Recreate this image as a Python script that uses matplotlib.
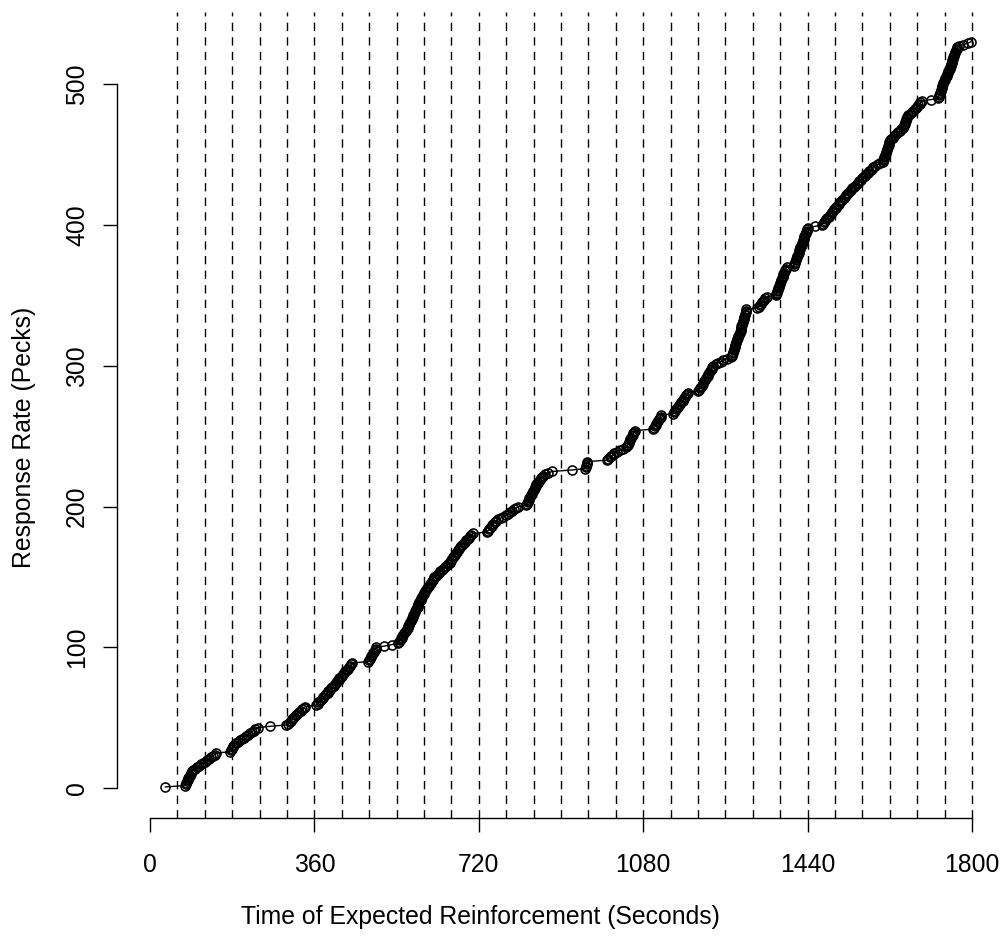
import numpy as np
import matplotlib
matplotlib.use("Agg")
import matplotlib.pyplot as plt

# Time (s) of each successive peck in the session
peck_times = [
    34,
    77, 78, 80, 81, 83, 84, 86, 87, 89, 91, 93,
    95, 99, 103, 108, 112, 117, 121, 126, 130, 134, 138, 142, 145,
    175, 177, 179, 181, 183, 185, 188, 192, 197, 201, 206, 210,
    214, 219, 223, 227, 231, 236,
    262,
    298, 302, 306, 309, 312, 314, 316, 320, 323, 327, 330, 334, 337, 340,
    364, 367, 369, 372, 375, 378, 380, 383, 386, 389, 391, 394, 397, 399,
    402, 405, 407, 410, 413, 415, 418,
    421, 423, 426, 428, 431, 433, 436, 438, 441, 443,
    477, 479, 481, 483, 485, 487, 489, 490, 492, 494, 495,
    513, 529,
    543, 545, 547, 549, 551, 553, 555, 557, 559, 561,
    562, 564, 565, 567, 568, 570, 571, 573, 574, 575, 577, 578, 580, 581,
    583, 584, 586, 587, 588, 590, 591, 593, 594, 596, 597,
    599, 601, 603, 605, 607, 609, 611, 613, 615, 617, 619, 621, 623,
    626, 630, 633, 636, 639, 642, 645, 648, 652, 656,
    658, 660, 662, 664, 666, 668, 670, 672, 674, 676, 678,
    681, 684, 687, 690, 693, 696, 699, 701, 704, 707,
    738, 740, 743, 745, 748, 750, 752, 755, 758,
    763, 769, 774, 780, 784, 789, 793, 797, 802, 806,
    824, 825, 827, 828, 830, 831, 833, 834, 836, 837, 839, 840, 842, 843,
    845, 846, 849, 851, 854, 856, 859, 861, 864,
    872, 881, 923,
    953, 954, 955, 956, 957, 958,
    1000, 1003, 1007, 1010, 1014, 1017, 1023, 1030, 1036, 1043,
    1045, 1046, 1048, 1049, 1051, 1052, 1054, 1055, 1057, 1058, 1060, 1061,
    1101, 1103, 1105, 1107, 1109, 1111, 1113, 1115, 1116, 1118, 1120,
    1145, 1147, 1150, 1152, 1154, 1157, 1159, 1161, 1163, 1166, 1168, 1170,
    1172, 1174, 1176, 1178,
    1200, 1202, 1204, 1206, 1208, 1210, 1211, 1213, 1215, 1217, 1219, 1221,
    1222, 1224, 1226, 1228, 1230, 1231, 1233,
    1239, 1244, 1250, 1255, 1264, 1273,
    1274, 1275, 1276, 1277, 1278, 1279, 1280, 1281, 1282, 1283, 1284, 1285,
    1286, 1287, 1288, 1289, 1291,
    1292, 1293, 1294, 1295, 1295, 1296, 1297, 1298, 1299, 1300, 1300, 1301,
    1302, 1303, 1304, 1305, 1306,
    1330, 1333, 1336, 1338, 1340, 1342, 1344, 1347, 1350,
    1370, 1371, 1372, 1373, 1375, 1376, 1377, 1378, 1379, 1380, 1381, 1382,
    1383, 1385, 1386, 1387, 1388, 1390, 1391, 1392, 1394,
    1410, 1411, 1412, 1413, 1414, 1415, 1416, 1417, 1419, 1420, 1421, 1422,
    1423, 1424, 1426, 1427, 1428, 1429, 1430, 1431, 1432, 1433, 1434, 1436,
    1437, 1438, 1439, 1441,
    1456, 1471,
    1473, 1476, 1478, 1481, 1483, 1486, 1488, 1491, 1493, 1496, 1498, 1501,
    1503, 1506,
    1509, 1511, 1514, 1516, 1519, 1521, 1524, 1527, 1529, 1532, 1535, 1538,
    1541, 1544,
    1547, 1550, 1553, 1556, 1559, 1562,
    1565, 1568, 1572, 1575, 1578, 1581, 1584, 1587,
    1593, 1599, 1605,
    1606, 1607, 1608, 1609, 1610, 1611, 1612, 1613, 1614, 1615, 1616, 1617,
    1618, 1619, 1620,
    1623, 1626, 1629, 1632, 1635, 1638, 1642, 1645, 1649,
    1650, 1651, 1652, 1653, 1655, 1656, 1657, 1658, 1660,
    1664, 1668, 1671, 1675, 1677, 1680, 1682, 1685, 1687, 1690,
    1710, 1726,
    1727, 1728, 1729, 1730, 1731, 1732, 1733, 1734, 1735, 1736, 1737,
    1738, 1740, 1741, 1743, 1744, 1745, 1747, 1748, 1749, 1751, 1752,
    1753, 1754, 1755, 1756, 1757, 1758, 1759, 1760, 1761, 1762, 1763, 1764,
    1766, 1767,
    1772, 1781, 1790, 1797,
]

# Scheduled reinforcement times (every 60 s)
interval_marks = list(range(60, 1801, 60))

x_ticks = [0, 360, 720, 1080, 1440, 1800]
y_ticks = [0, 100, 200, 300, 400, 500]

x_label = "Time of Expected Reinforcement (Seconds)"
y_label = "Response Rate (Pecks)"

plt.rcParams["font.family"] = ["Liberation Sans", "DejaVu Sans"]
FS = 17.8

W, H = 1006, 938
fig = plt.figure(figsize=(W / 100, H / 100), dpi=100)

# plot region in pixels
px_left, px_right = 117, 1005
px_top, px_bottom = 12, 818.2
ax = fig.add_axes([px_left / W, (H - px_bottom) / H,
                   (px_right - px_left) / W, (px_bottom - px_top) / H])

cum_pecks = np.arange(1, len(peck_times) + 1)

for t in interval_marks:
    ax.axvline(t, color="black", lw=1.0, linestyle=(0, (6.0, 4.5)), zorder=1)

ax.plot(peck_times, cum_pecks, color="black", lw=1.0, zorder=2)
ax.plot(peck_times, cum_pecks, linestyle="none", marker="o", ms=6.5,
        mfc="none", mec="black", mew=1.15, zorder=3)

ax.set_xlim(-72, 1872)
ax.set_ylim(-21.2, 551.2)

for s in ("top", "right"):
    ax.spines[s].set_visible(False)
ax.spines["bottom"].set_bounds(0, 1800)
ax.spines["left"].set_bounds(0, 500)
ax.spines["bottom"].set_linewidth(1.0)
ax.spines["left"].set_linewidth(1.0)

ax.set_xticks(x_ticks)
ax.set_xticklabels([str(v) for v in x_ticks], fontsize=FS)
ax.set_yticks(y_ticks)
ax.set_yticklabels([str(v) for v in y_ticks], fontsize=FS,
                   rotation=90, va="center")
ax.tick_params(axis="both", length=10, width=1.0, color="black")
ax.tick_params(axis="x", pad=15)
ax.tick_params(axis="y", pad=10)

fig.text(480 / W, 1 - 917 / H, x_label, fontsize=FS,
         ha="center", va="center")
fig.text(24 / W, 1 - 437 / H, y_label, fontsize=FS,
         ha="center", va="center", rotation=90)

fig.savefig("out.png", dpi=100)
